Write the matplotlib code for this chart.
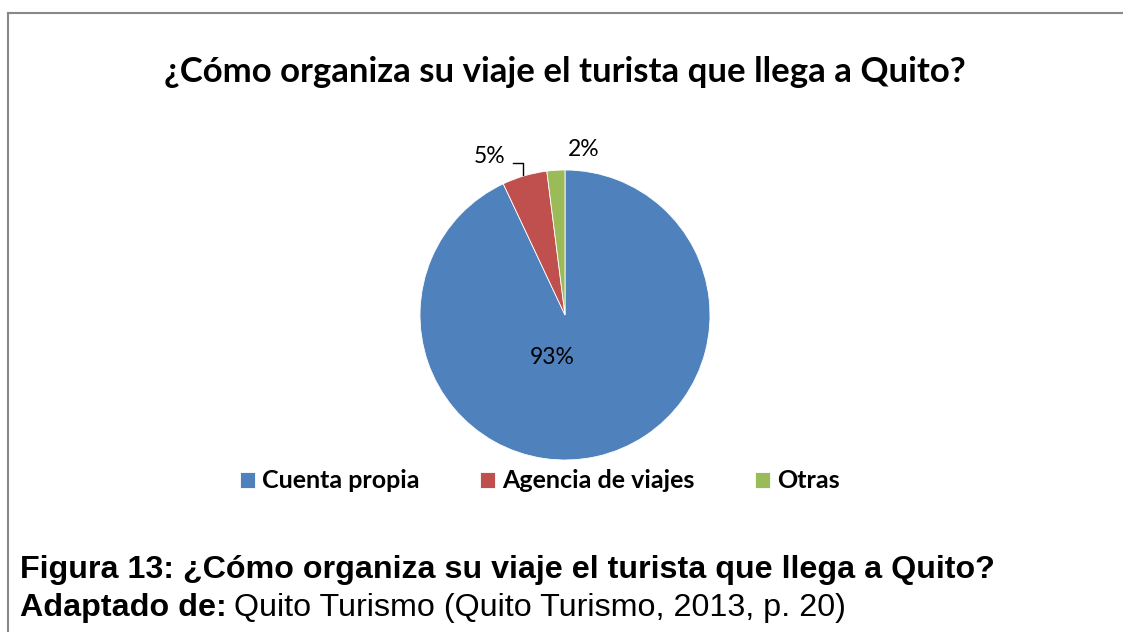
import matplotlib.pyplot as plt
from matplotlib.lines import Line2D

categorias = ["Cuenta propia", "Agencia de viajes", "Otras"]
valores = [93, 5, 2]
colores = ["#4F81BD", "#C0504D", "#9BBB59"]
titulo = "¿Cómo organiza su viaje el turista que llega a Quito?"
figura_txt = "Figura 13: ¿Cómo organiza su viaje el turista que llega a Quito?"
fuente_txt = "Quito Turismo (Quito Turismo, 2013, p. 20)"

W, H = 1123, 632
fig = plt.figure(figsize=(W / 100, H / 100), dpi=100)

# pie centre / radius in pixels
cx, cy, r = 565, 315, 145
ax = fig.add_axes([(cx - r) / W, (H - cy - r) / H, 2 * r / W, 2 * r / H])
wedges, _ = ax.pie(valores, colors=colores, startangle=90, counterclock=False,
                   radius=1, wedgeprops=dict(edgecolor="white", linewidth=0.6))
ax.set_xlim(-1, 1)
ax.set_ylim(-1, 1)
ax.set_aspect("auto")
ax.axis("off")

# data labels
pos = [(-0.09, -0.29), (-0.52, 1.09), (0.13, 1.14)]
for v, (x, y) in zip(valores, pos):
    ax.text(x, y, f"{v}%", ha="center", va="center", fontsize=16.5,
            family="Lato", clip_on=False)
ax.add_line(Line2D([-0.36, -0.29, -0.29], [1.048, 1.048, 0.966], color="black",
                   lw=1, clip_on=False))

fig.text(cx / W, 1 - 72 / H, titulo, ha="center", va="center", fontsize=25,
         fontweight="bold", family="Lato")

leg = fig.legend(wedges, categorias, loc="center", ncol=3,
                 bbox_to_anchor=(540 / W, 1 - 481 / H), frameon=False,
                 handlelength=0.6, handleheight=0.6, handletextpad=0.3,
                 columnspacing=2.4, prop=dict(family="Lato", weight="bold", size=18))

fig.text(20 / W, 1 - 570 / H, figura_txt, ha="left", va="center", fontsize=23.2,
         fontweight="bold", family="Liberation Sans")
t = fig.text(20 / W, 1 - 608 / H, "Adaptado de:", ha="left", va="center",
             fontsize=23.2, fontweight="bold", family="Liberation Sans")
fig.canvas.draw()
bb = t.get_window_extent()
fig.text((bb.x1 + 7) / W, 1 - 608 / H, fuente_txt, ha="left", va="center",
         fontsize=23.2, family="Liberation Sans")

# frame of the chart box (top and left edges visible)
fig.add_artist(Line2D([8 / W, 1], [1 - 12.5 / H, 1 - 12.5 / H], color="#888888", lw=1.5))
fig.add_artist(Line2D([8 / W, 8 / W], [0, 1 - 12.5 / H], color="#888888", lw=1.5))

fig.savefig("out.png", dpi=100)
